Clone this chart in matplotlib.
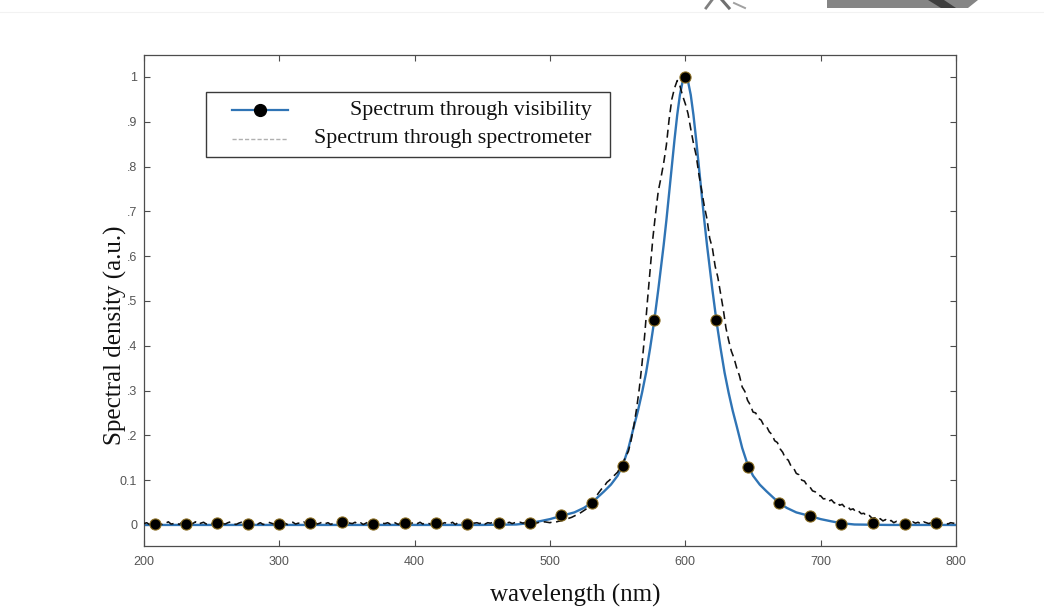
import numpy as np
import matplotlib
matplotlib.use("Agg")
import matplotlib.pyplot as plt
from matplotlib.patches import Rectangle, Polygon
from matplotlib.lines import Line2D

# ---------------- data ----------------
# Spectrum through visibility (smooth blue curve)
vis_wl = [200, 300, 400, 450, 475, 485, 492, 500, 508, 518, 525, 531, 535, 540,
          545, 550, 554, 558, 562, 565, 568, 571, 574, 577, 580, 582, 584, 586,
          588, 590, 592, 594, 596, 598, 600,
          602, 604, 606, 608, 610, 612, 614, 616, 618, 620, 623, 626, 629, 632,
          635, 638, 642, 646, 650, 655, 660, 665, 669, 675, 682, 692, 700, 708,
          715, 725, 750, 800]
vis_val = [0.0, 0.0, 0.0, 0.0, 0.001, 0.004, 0.008, 0.013, 0.020, 0.028, 0.038,
           0.050, 0.061, 0.075, 0.090, 0.110, 0.135, 0.172, 0.220, 0.255, 0.295,
           0.340, 0.395, 0.455, 0.525, 0.575, 0.625, 0.680, 0.740, 0.800, 0.860,
           0.915, 0.960, 0.990, 1.000,
           0.990, 0.960, 0.915, 0.860, 0.800, 0.740, 0.680, 0.625, 0.575, 0.525,
           0.455, 0.395, 0.340, 0.295, 0.255, 0.220, 0.172, 0.135, 0.110, 0.090,
           0.075, 0.061, 0.050, 0.038, 0.028, 0.020, 0.013, 0.008, 0.004, 0.001,
           0.0, 0.0]

# Markers on the visibility spectrum
dot_wl = [208, 231, 254, 277, 300, 323, 346, 369, 393, 416, 439, 462, 485,
          508, 531, 554, 577, 600, 623, 646, 669, 692, 715, 739, 762, 785]
dot_val = [0.002, 0.002, 0.004, 0.002, 0.002, 0.004, 0.007, 0.002, 0.004,
           0.004, 0.002, 0.005, 0.004, 0.022, 0.050, 0.132, 0.457, 1.000,
           0.457, 0.130, 0.050, 0.020, 0.003, 0.004, 0.002, 0.005]

# Spectrum through spectrometer (dashed), sampled every 2 nm from 200 to 800 nm
spec_wl = np.arange(200, 801, 2)
spec_val = [
    0.003, 0.005, 0.001, 0.004, 0.002, 0.006, 0.003, 0.000, 0.004, 0.007,  # 200
    0.002, 0.003, 0.005, 0.001, 0.006, 0.004, 0.002, 0.005, 0.003, 0.007,  # 220
    0.001, 0.004, 0.006, 0.002, 0.005, 0.003, 0.000, 0.004, 0.006, 0.003,  # 240
    0.002, 0.005, 0.007, 0.003, 0.001, 0.004, 0.006, 0.002, 0.005, 0.003,  # 260
    0.004, 0.007, 0.002, 0.005, 0.001, 0.003, 0.006, 0.004, 0.002, 0.005,  # 280
    0.007, 0.003, 0.004, 0.001, 0.005, 0.006, 0.002, 0.004, 0.003, 0.007,  # 300
    0.001, 0.005, 0.003, 0.006, 0.002, 0.004, 0.007, 0.003, 0.005, 0.001,  # 320
    0.004, 0.006, 0.003, 0.002, 0.005, 0.007, 0.004, 0.003, 0.006, 0.002,  # 340
    0.005, 0.001, 0.004, 0.007, 0.003, 0.005, 0.002, 0.006, 0.004, 0.003,  # 360
    0.005, 0.002, 0.007, 0.004, 0.001, 0.006, 0.003, 0.005, 0.002, 0.004,  # 380
    0.007, 0.003, 0.006, 0.002, 0.005, 0.004, 0.001, 0.006, 0.003, 0.007,  # 400
    0.002, 0.005, 0.004, 0.003, 0.006, 0.001, 0.005, 0.007, 0.003, 0.004,  # 420
    0.002, 0.006, 0.004, 0.005, 0.003, 0.007, 0.002, 0.005, 0.004, 0.006,  # 440
    0.003, 0.005, 0.002, 0.007, 0.004, 0.006, 0.003, 0.005, 0.004, 0.006,  # 460
    0.004, 0.006, 0.003, 0.005, 0.007, 0.004, 0.006, 0.005, 0.007, 0.006,  # 480
    0.005, 0.007, 0.006, 0.008, 0.009, 0.011, 0.012, 0.015, 0.017, 0.020,  # 500
    0.023, 0.026, 0.030, 0.034, 0.039, 0.045, 0.052, 0.063, 0.072, 0.080,  # 520
    0.086, 0.095, 0.100, 0.106, 0.112, 0.118, 0.130, 0.140, 0.152, 0.165,  # 540
    0.190, 0.222, 0.260, 0.305, 0.360, 0.425, 0.500, 0.570, 0.640, 0.695,  # 560
    0.745, 0.775, 0.808, 0.848, 0.905, 0.950, 0.975, 0.992, 0.980, 0.958,  # 580
    0.940, 0.918, 0.884, 0.852, 0.825, 0.783, 0.748, 0.712, 0.683, 0.640,  # 600
    0.618, 0.578, 0.553, 0.518, 0.482, 0.440, 0.412, 0.388, 0.372, 0.350,  # 620
    0.333, 0.308, 0.298, 0.278, 0.268, 0.252, 0.250, 0.238, 0.234, 0.222,  # 640
    0.220, 0.208, 0.202, 0.188, 0.184, 0.170, 0.162, 0.148, 0.145, 0.132,  # 660
    0.127, 0.115, 0.112, 0.100, 0.098, 0.088, 0.085, 0.076, 0.074, 0.066,  # 680
    0.065, 0.058, 0.059, 0.053, 0.056, 0.049, 0.052, 0.044, 0.046, 0.039,  # 700
    0.041, 0.034, 0.036, 0.029, 0.031, 0.025, 0.026, 0.019, 0.021, 0.015,  # 720
    0.016, 0.011, 0.014, 0.009, 0.012, 0.007, 0.010, 0.005, 0.008, 0.006,  # 740
    0.004, 0.008, 0.005, 0.003, 0.007, 0.004, 0.006, 0.002, 0.007, 0.005,  # 760
    0.003, 0.006, 0.004, 0.007, 0.003, 0.005, 0.006, 0.002, 0.005, 0.004,  # 780
    0.003,                                                                 # 800
]

xtick_vals = [200, 300, 400, 500, 600, 700, 800]
xtick_labels = ["200", "300", "400", "500", "600", "700", "800"]
ytick_vals = [0, 0.1, 0.2, 0.3, 0.4, 0.5, 0.6, 0.7, 0.8, 0.9, 1.0]
ytick_labels = ["0", "0.1", ".2", ".3", ".4", ".5", ".6", ".7", ".8", ".9", "1"]

legend_labels = ["Spectrum through visibility", "Spectrum through spectrometer"]
xlabel = "wavelength (nm)"
ylabel = "Spectral density (a.u.)"

# ---------------- styling ----------------
BLUE = "#2f74b5"
FRAME = "#4d4d4d"
TICKTXT = "#555555"
SERIF = "Liberation Serif"
SANS = "Liberation Sans"

W, H = 1044, 607
fig = plt.figure(figsize=(W / 100, H / 100), dpi=100)
fig.patch.set_facecolor("white")

# page artefacts at top (scan remnants)
ov = fig.add_axes([0, 0, 1, 1], zorder=0)
ov.set_xlim(0, W)
ov.set_ylim(H, 0)
ov.axis("off")
ov.add_patch(Polygon([(827, 0), (978, 0), (968, 8), (827, 8)], closed=True,
                     facecolor="#858585", edgecolor="none"))
ov.add_patch(Polygon([(928, 0), (944, 0), (956, 8), (941, 8)], closed=True,
                     facecolor="#3f3f3f", edgecolor="none"))
ov.plot([706, 712], [8, 0], color="#808080", lw=2.0)
ov.plot([722, 729], [0, 8], color="#707070", lw=2.2)
ov.plot([734, 745], [3, 8], color="#a0a0a0", lw=1.4)
ov.plot([0, W], [12, 12], color="#f2f2f2", lw=0.8)

ax = fig.add_axes([144 / W, (H - 546) / H, 812 / W, 491 / H], zorder=1)

ax.plot(vis_wl, vis_val, color=BLUE, lw=1.7, zorder=2, solid_joinstyle="round")
ax.plot(spec_wl, spec_val, color="#111111", lw=1.15, ls=(0, (5, 3)), zorder=3)
ax.plot(dot_wl, dot_val, ls="none", marker="o", ms=8.0, mfc="black",
        mec="#8a6d22", mew=0.8, zorder=4)

ax.set_xlim(200, 800)
ax.set_ylim(-0.047, 1.049)
ax.set_xticks(xtick_vals)
ax.set_xticklabels(xtick_labels)
ax.set_yticks(ytick_vals)
ax.set_yticklabels(ytick_labels)
ax.tick_params(direction="in", top=True, right=True, length=4, width=0.8,
               color=FRAME, labelsize=9, labelcolor=TICKTXT)
ax.tick_params(axis="x", pad=7)
ax.tick_params(axis="y", pad=5)
for lab in ax.get_xticklabels() + ax.get_yticklabels():
    lab.set_fontfamily(SANS)
for sp in ax.spines.values():
    sp.set_color(FRAME)
    sp.set_linewidth(0.9)

ax.set_xlabel(xlabel, fontfamily=SERIF, fontsize=18, color="#111111")
ax.xaxis.set_label_coords(0.531, -0.077)
ax.set_ylabel(ylabel, fontfamily=SERIF, fontsize=18, color="#111111")
ax.yaxis.set_label_coords(-0.021, 0.43)

# legend (drawn by hand to mimic right-aligned entries)
lx0, lx1 = (206 - 144) / 812, (610 - 144) / 812
ly0, ly1 = (546 - 157) / 491, (546 - 92) / 491
ax.add_patch(Rectangle((lx0, ly0), lx1 - lx0, ly1 - ly0, transform=ax.transAxes,
                       facecolor="white", edgecolor="#3a3a3a", lw=1.0, zorder=6))
sx0, sx1, sxm = (232 - 144) / 812, (288 - 144) / 812, (260 - 144) / 812
sy1, sy2 = (546 - 110) / 491, (546 - 139) / 491
ax.add_line(Line2D([sx0, sx1], [sy1, sy1], transform=ax.transAxes, color=BLUE,
                   lw=1.6, zorder=7))
ax.add_line(Line2D([sxm], [sy1], transform=ax.transAxes, ls="none", marker="o",
                   ms=8.5, mfc="black", mec="black", zorder=8))
ax.add_line(Line2D([sx0, sx1], [sy2, sy2], transform=ax.transAxes,
                   color="#b0b0b0", lw=1.0, ls=(0, (3, 1.5)), zorder=7))
tx = (592 - 144) / 812
ax.text(tx, sy1, legend_labels[0], transform=ax.transAxes, ha="right",
        va="center", fontfamily=SERIF, fontsize=15.8, color="#111111", zorder=8)
ax.text(tx, sy2, legend_labels[1], transform=ax.transAxes, ha="right",
        va="center", fontfamily=SERIF, fontsize=15.8, color="#111111", zorder=8)

fig.savefig("out.png", dpi=100)
